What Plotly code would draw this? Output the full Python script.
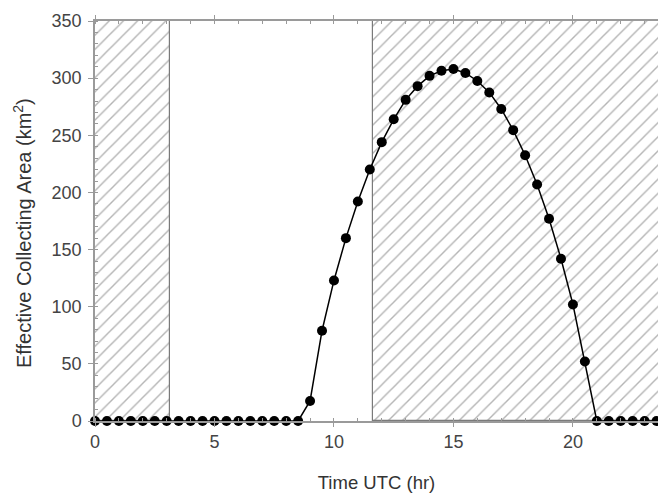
import plotly.graph_objects as go

times = [0.0, 0.5, 1.0, 1.5, 2.0, 2.5, 3.0, 3.5, 4.0, 4.5, 5.0, 5.5, 6.0, 6.5, 7.0, 7.5,
         8.0, 8.5, 9.0, 9.5, 10.0, 10.5, 11.0, 11.5, 12.0, 12.5, 13.0, 13.5, 14.0, 14.5,
         15.0, 15.5, 16.0, 16.5, 17.0, 17.5, 18.0, 18.5, 19.0, 19.5, 20.0, 20.5, 21.0,
         21.5, 22.0, 22.5, 23.0, 23.5]
area = [0, 0, 0, 0, 0, 0, 0, 0, 0, 0, 0, 0, 0, 0, 0, 0,
        0, 0, 17.5, 79, 123, 160, 192, 220, 244, 264, 281, 293, 302, 306.5,
        308, 304.5, 297.5, 287.5, 273, 254.5, 232.5, 207, 177, 142, 102, 52, 0,
        0, 0, 0, 0, 0]

# shaded (hatched) time windows: start, end (hr)
shade_start = [0.0, 11.63]
shade_end = [3.14, 26.0]
y_top = 350

fig = go.Figure()

fig.add_trace(go.Bar(
    x=[(a + b) / 2 for a, b in zip(shade_start, shade_end)],
    y=[y_top] * len(shade_start),
    width=[b - a for a, b in zip(shade_start, shade_end)],
    marker=dict(color="white",
                line=dict(color="#7a7a7a", width=1.2),
                pattern=dict(shape="/", fgcolor="#6a6a6a", bgcolor="white",
                             size=10, solidity=0.14)),
    hoverinfo="skip", showlegend=False,
))

fig.add_trace(go.Scatter(
    x=times, y=area, mode="lines+markers",
    line=dict(color="black", width=1.5),
    marker=dict(color="black", size=10, symbol="circle"),
    cliponaxis=False, showlegend=False,
))

font_family = "Liberation Sans, Arial, sans-serif"
axcol = "#9a9a9a"

fig.update_layout(
    width=658, height=493,
    margin=dict(l=95, r=0, t=21, b=72),
    plot_bgcolor="white", paper_bgcolor="white",
    font=dict(family=font_family, size=18, color="#444"),
    bargap=0, barmode="overlay",
    xaxis=dict(
        range=[0, 23.56], tickmode="array", tickvals=[0, 5, 10, 15, 20],
        ticks="outside", ticklen=4, tickcolor=axcol, tickwidth=1,
        minor=dict(dtick=1, ticks="inside", ticklen=3, tickcolor=axcol),
        showline=True, linecolor=axcol, linewidth=1.5, mirror="ticks",
        showgrid=False, zeroline=False,
        title=dict(text="Time UTC (hr)", font=dict(size=18.5, color="#333"), standoff=26),
        tickfont=dict(size=18, color="#444"),
    ),
    yaxis=dict(
        range=[0, 350], tickmode="array", tickvals=[0, 50, 100, 150, 200, 250, 300, 350],
        ticks="outside", ticklen=5, tickcolor=axcol, tickwidth=1,
        minor=dict(dtick=10, ticks="inside", ticklen=3, tickcolor=axcol),
        showline=True, linecolor=axcol, linewidth=1.5,
        showgrid=False, zeroline=False, ticklabelstandoff=3,
        tickfont=dict(size=18, color="#444"),
    ),
    annotations=[dict(
        text="Effective Collecting Area (km<sup>2</sup>)",
        xref="paper", yref="paper", x=-0.1297, y=0.47,
        xanchor="center", yanchor="middle", textangle=-90, showarrow=False,
        font=dict(size=20, color="#333"),
    )],
)

fig.write_html("out.html")
